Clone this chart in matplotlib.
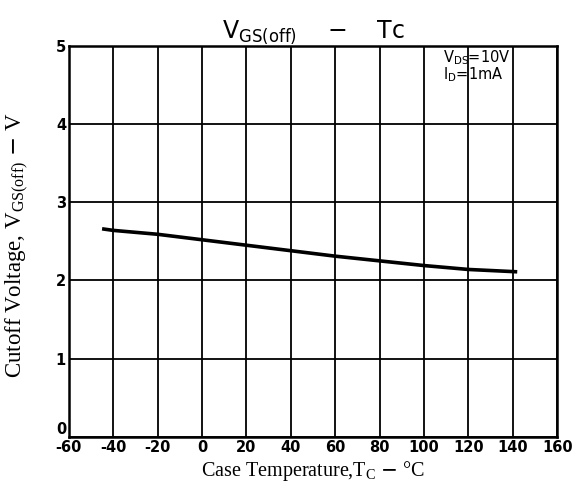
import numpy as np
import matplotlib.pyplot as plt

plt.rcParams["mathtext.fontset"] = "dejavusans"
plt.rcParams["axes.unicode_minus"] = False

# Cutoff voltage vs case temperature
temp = [-45, -40, -20, 0, 20, 40, 60, 80, 100, 120, 142]
vgs_off = [2.66, 2.64, 2.59, 2.52, 2.45, 2.38, 2.31, 2.25, 2.19, 2.14, 2.11]

xticks = [-60, -40, -20, 0, 20, 40, 60, 80, 100, 120, 140, 160]
yticks = [0, 1, 2, 3, 4, 5]

fig = plt.figure(figsize=(5.78, 4.88), dpi=100)
ax = fig.add_axes([0.119, 0.105, 0.845, 0.801])

ax.plot(temp, vgs_off, color="black", lw=2.6, solid_capstyle="butt")

ax.set_xlim(-60, 160)
ax.set_ylim(0, 5)
ax.set_xticks(xticks)
ax.set_yticks(yticks)
ax.grid(True, color="black", lw=1.3)
for s in ax.spines.values():
    s.set_linewidth(1.8)
ax.tick_params(length=0, pad=2)
for lab in ax.get_xticklabels() + ax.get_yticklabels():
    lab.set_fontweight("bold")
    lab.set_fontsize(10.5)
    lab.set_family("DejaVu Sans")
ax.get_yticklabels()[0].set_va("bottom")

ax.set_xlabel(r"Case Temperature,T$_\mathregular{C}$ $-$ °C", family="Liberation Serif",
              fontsize=14.5, labelpad=3)
ax.set_ylabel(r"Cutoff Voltage, V$_\mathregular{GS(off)}$ $-$ V", family="Liberation Serif",
              fontsize=16.5, labelpad=8)
ax.yaxis.set_label_coords(-0.078, 0.49)
ax.set_title(r"V$_\mathregular{GS(off)}$    $-$    Tc", fontsize=17, pad=5,
             family="DejaVu Sans")

ax.text(0.766, 0.995, r"V$_\mathregular{DS}$=10V", transform=ax.transAxes,
        ha="left", va="top", fontsize=10.5)
ax.text(0.766, 0.95, r"I$_\mathregular{D}$=1mA", transform=ax.transAxes,
        ha="left", va="top", fontsize=10.5)

fig.savefig("out.png", dpi=100)
